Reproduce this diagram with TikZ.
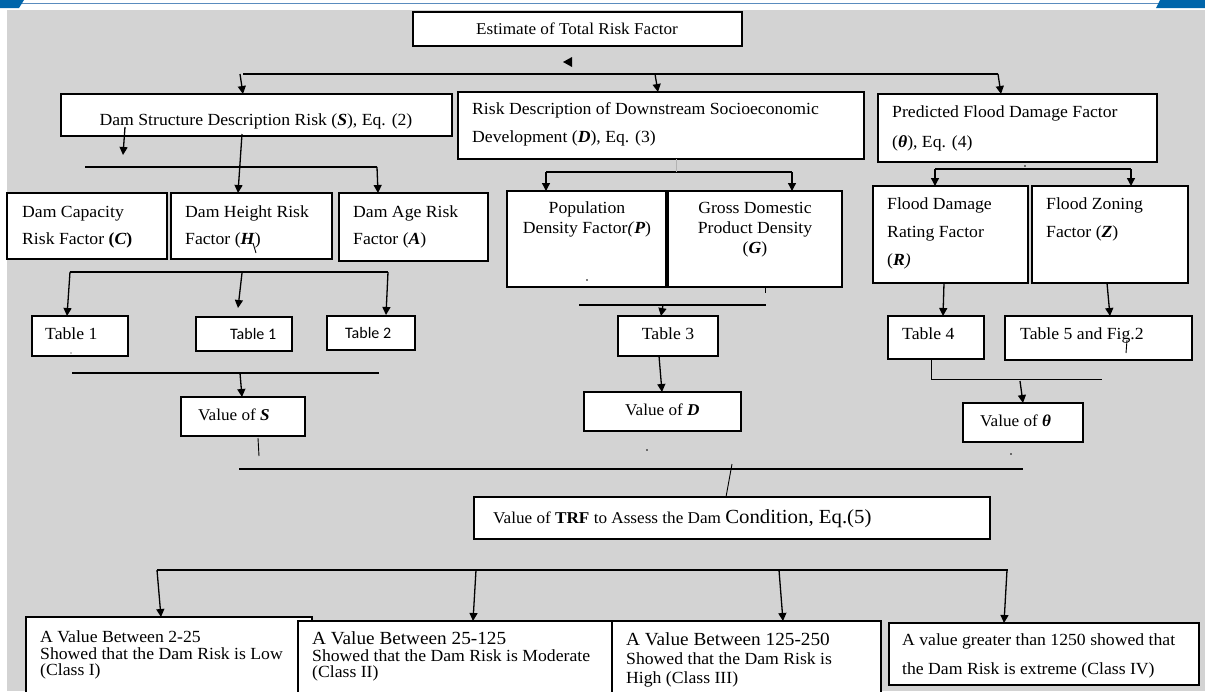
\documentclass[tikz,border=0pt]{standalone}
\usepackage{fontspec}
\setmainfont{Liberation Serif}[FakeStretch=1.04]
\newfontfamily\calfont{Carlito}
\usetikzlibrary{arrows.meta}
\definecolor{bggray}{RGB}{211,211,211}
\definecolor{hdrblue}{RGB}{0,101,170}
\definecolor{hdrline}{RGB}{90,140,190}
\tikzset{
  x=1pt,y=-1pt,
  boxst/.style={draw,fill=white,line width=2.2pt,inner sep=0pt,outer sep=0pt},
  txt/.style={inner sep=0pt,font=\fontsize{17}{20}\selectfont},
  conn/.style={line width=1.3pt},
  thinl/.style={line width=0.9pt},
  arr/.style={line width=1.3pt,-{Triangle[length=8pt,width=8pt]}},
}
\newcommand\mybox[5]{\node[boxst,anchor=north west,minimum width=#4pt-#2pt,minimum height=#5pt-#3pt] (#1) at (#2,#3) {};}
\newcommand\ltx[4]{\node[txt,anchor=base west] (#1) at (#2,#3+5.5) {#4};}
\newcommand\ctx[4]{\node[txt,anchor=base] (#1) at (#2,#3+5.5) {#4};}
\newcommand\bi[1]{\textbf{\textit{#1}}}
\begin{document}
\begin{tikzpicture}
\useasboundingbox (0,0) rectangle (1205,691);
\clip (0,0) rectangle (1205,691);
\fill[white] (0,0) rectangle (1205,691);
\fill[bggray] (7,10) rectangle (1205,691);
\draw[hdrline,line width=1pt] (0,3) -- (1205,3);
\fill[hdrblue] (0,0) -- (24,0) -- (19,8) -- (0,8) -- cycle;
\fill[hdrblue] (1160,0) -- (1205,0) -- (1205,8) -- (1156,8) -- cycle;

% ---------- top ----------
\mybox{top}{413}{12}{742}{46}
\ctx{ttop}{577}{29}{\fontsize{16.5}{20}\selectfont Estimate of Total Risk Factor}
\fill (563,62) -- (572,57) -- (572,67) -- cycle;
\coordinate (l1a) at (243,74); \coordinate (l1b) at (998,74);
\draw[conn] (l1a) -- (l1b);
\coordinate (a1s) at (240,74); \coordinate (a1e) at (243,94);
\coordinate (a2s) at (655,74); \coordinate (a2e) at (658,92);
\coordinate (a3s) at (998,74); \coordinate (a3e) at (1001,94);

% ---------- level 1 ----------
\mybox{S}{61}{94}{452}{136}
\ctx{tS}{256}{120}{Dam Structure Description Risk (\bi{S}), Eq. (2)}
\mybox{D}{458}{92}{864}{159}
\ltx{tD1}{472}{109}{Risk Description of Downstream Socioeconomic}
\ltx{tD2}{472}{137}{Development (\bi{D}), Eq. (3)}
\mybox{Th}{878}{94}{1157}{162}
\ltx{tT1}{892}{112}{Predicted Flood Damage Factor}
\ltx{tT2}{892}{142}{(\bi{θ}), Eq. (4)}
\draw[arr] (a1s) -- (a1e);
\draw[arr] (a2s) -- (a2e);
\draw[arr] (a3s) -- (a3e);

% ---------- S subtree ----------
\coordinate (s0a) at (125,127); \coordinate (s0b) at (123,155);
\draw[arr] (s0a) -- (s0b);
\coordinate (s1a) at (85,167); \coordinate (s1b) at (377,167);
\draw[conn] (s1a) -- (s1b);
\coordinate (s2e) at (378,193);
\draw[arr] (s1b) -- (s2e);
\coordinate (s3a) at (242,134); \coordinate (s3e) at (238,193);
\draw[arr] (s3a) -- (s3e);

\mybox{C}{7}{193}{167}{259}
\ltx{tC1}{22}{212}{Dam Capacity}
\ltx{tC2}{22}{239}{Risk Factor \textbf{(\textit{C})}}
\mybox{H}{171}{193}{332}{259}
\ltx{tH1}{185}{212}{Dam Height Risk}
\ltx{tH2}{185}{239}{Factor (\bi{H})}
\coordinate (hk1) at (253,243); \coordinate (hk2) at (256,253);
\draw[thinl] (hk1) -- (hk2);
\mybox{A}{339}{193}{488}{261}
\ltx{tA1}{353}{212}{Dam Age Risk}
\ltx{tA2}{353}{239}{Factor (\bi{A})}

% ---------- D subtree ----------
\coordinate (d1a) at (546,172); \coordinate (d1b) at (792,172);
\draw[conn] (d1a) -- (d1b);
\coordinate (d1ae) at (546,191); \coordinate (d1be) at (792,191);
\draw[arr] (d1a) -- (d1ae);
\draw[arr] (d1b) -- (d1be);
\coordinate (dk1) at (676,159); \coordinate (dk2) at (676,172);
\draw[gray!60,line width=0.6pt] (dk1) -- (dk2);
\mybox{P}{507}{191}{666}{287}
\ctx{tP1}{587}{208}{Population}
\ctx{tP2}{587}{228}{Density Factor\textit{(}\bi{P})}
\fill (587,280) circle (0.8);
\mybox{G}{668}{191}{842}{287}
\ctx{tG1}{755}{208}{Gross Domestic}
\ctx{tG2}{755}{228}{Product Density}
\ctx{tG3}{755}{248}{(\bi{G})}
\coordinate (gk1) at (765,287); \coordinate (gk2) at (765,293);
\draw[thinl] (gk1) -- (gk2);

% ---------- theta subtree ----------
\coordinate (t1a) at (935,169); \coordinate (t1b) at (1131,169);
\draw[conn] (t1a) -- (t1b);
\coordinate (t1ae) at (935,186); \coordinate (t1be) at (1131,186);
\draw[arr] (t1a) -- (t1ae);
\draw[arr] (t1b) -- (t1be);
\fill (1025,166) circle (0.8);
\mybox{R}{873}{186}{1028}{283}
\ltx{tR1}{887}{204}{Flood Damage}
\ltx{tR2}{887}{232}{Rating Factor}
\ltx{tR3}{887}{260}{(\bi{R}\textit{)}}
\mybox{Z}{1032}{186}{1188}{283}
\ltx{tZ1}{1046}{204}{Flood Zoning}
\ltx{tZ2}{1046}{232}{Factor (\bi{Z})}

% ---------- tables ----------
\coordinate (c1a) at (70,272); \coordinate (c1b) at (388,272);
\draw[conn] (c1a) -- (c1b);
\coordinate (c1ae) at (67,316);
\draw[arr] (c1a) -- (c1ae);
\coordinate (c2s) at (242,273); \coordinate (c2e) at (238,308);
\draw[arr] (c2s) -- (c2e);
\coordinate (c3e) at (386,315);
\draw[arr] (c1b) -- (c3e);

\mybox{Tb1}{32}{316}{128}{356}
\ltx{tTb1}{45}{334}{Table 1}
\fill (71,353) circle (0.7);
\mybox{Tb1b}{196}{317}{292}{351}
\ltx{tTb1b}{230}{334}{\calfont\fontsize{16}{19}\selectfont Table 1}
\mybox{Tb2}{327}{316}{415}{350}
\ltx{tTb2}{345}{333}{\calfont\fontsize{16}{19}\selectfont Table 2}

\coordinate (p1a) at (579,305); \coordinate (p1b) at (766,305);
\draw[conn] (p1a) -- (p1b);
\coordinate (p2s) at (663,305); \coordinate (p2e) at (661,316);
\draw[arr] (p2s) -- (p2e);
\mybox{Tb3}{618}{316}{718}{356}
\ctx{tTb3}{668}{334}{Table 3}

\coordinate (r1s) at (944,283); \coordinate (r1e) at (943,316);
\draw[arr] (r1s) -- (r1e);
\coordinate (z1s) at (1107,283); \coordinate (z1e) at (1110,316);
\draw[arr] (z1s) -- (z1e);
\mybox{Tb4}{888}{316}{984}{359}
\ltx{tTb4}{902}{334}{Table 4}
\mybox{Tb5}{1005}{316}{1192}{360}
\ltx{tTb5}{1020}{334}{Table 5 and Fig.2}
\coordinate (fk1) at (1127,340); \coordinate (fk2) at (1126,353);
\draw[thinl] (fk1) -- (fk2);

% ---------- values ----------
\coordinate (v1a) at (72,373); \coordinate (v1b) at (379,373);
\draw[conn] (v1a) -- (v1b);
\coordinate (v1s) at (240,373); \coordinate (v1e) at (242,397);
\draw[arr] (v1s) -- (v1e);
\mybox{VS}{181}{397}{305}{436}
\ltx{tVS}{198}{415}{\fontsize{16.5}{20}\selectfont Value of \bi{S}}

\coordinate (v2s) at (659,356); \coordinate (v2e) at (662,392);
\draw[arr] (v2s) -- (v2e);
\mybox{VD}{584}{392}{741}{431}
\ltx{tVD}{625}{410}{\fontsize{16.5}{20}\selectfont Value of \bi{D}}
\fill (647,450) circle (0.8);

\coordinate (v3a) at (931,359); \coordinate (v3b) at (931,379); \coordinate (v3c) at (1102,379);
\draw[thinl] (v3a) -- (v3b) -- (v3c);
\coordinate (v3s) at (1020,381); \coordinate (v3e) at (1023,403);
\draw[arr] (v3s) -- (v3e);
\mybox{VT}{963}{403}{1083}{442}
\ltx{tVT}{980}{421}{\fontsize{16.5}{20}\selectfont Value of \bi{θ}}
\fill (1011,454) circle (0.8);

\coordinate (w0a) at (258,438); \coordinate (w0b) at (259,456);
\draw[thinl] (w0a) -- (w0b);
\coordinate (w1a) at (239,469); \coordinate (w1b) at (1023,469);
\draw[conn] (w1a) -- (w1b);
\coordinate (w2a) at (732,464); \coordinate (w2b) at (726,497);
\draw[thinl] (w2a) -- (w2b);

% ---------- TRF ----------
\mybox{TRF}{474}{497}{990}{539}
\ltx{tTRF}{493}{518}{\fontsize{16.5}{20}\selectfont Value of \textbf{TRF} to Assess the Dam {\fontsize{20}{23}\selectfont Condition, Eq.(5)}}

\coordinate (b1a) at (157,570); \coordinate (b1b) at (1008,570);
\draw[conn] (b1a) -- (b1b);
\coordinate (b1e) at (161,617);
\draw[arr] (b1a) -- (b1e);
\coordinate (b2s) at (476,570); \coordinate (b2e) at (473,621);
\draw[arr] (b2s) -- (b2e);
\coordinate (b3s) at (779,570); \coordinate (b3e) at (783,621);
\draw[arr] (b3s) -- (b3e);
\coordinate (b4s) at (1007,570); \coordinate (b4e) at (1004,623);
\draw[arr] (b4s) -- (b4e);

% ---------- classes ----------
\mybox{K1}{26}{617}{312}{710}
\ltx{tK11}{40}{637}{A Value Between 2-25}
\ltx{tK12}{40}{654}{Showed that the Dam Risk is Low}
\ltx{tK13}{40}{670}{(Class I)}
\mybox{K2}{298}{621}{612}{710}
\ltx{tK21}{312}{639}{\fontsize{18.5}{21}\selectfont A Value Between 25-125}
\ltx{tK22}{312}{656}{Showed that the Dam Risk is Moderate}
\ltx{tK23}{312}{672}{(Class II)}
\mybox{K3}{612}{621}{881}{710}
\ltx{tK31}{626}{640}{\fontsize{18.5}{21}\selectfont A Value Between 125-250}
\ltx{tK32}{626}{659}{Showed that the Dam Risk is}
\ltx{tK33}{626}{678}{High (Class III)}
\mybox{K4}{889}{623}{1199}{685}
\ltx{tK41}{902}{640}{A value greater than 1250 showed that}
\ltx{tK42}{902}{669}{the Dam Risk is extreme (Class IV)}
\end{tikzpicture}
\end{document}
